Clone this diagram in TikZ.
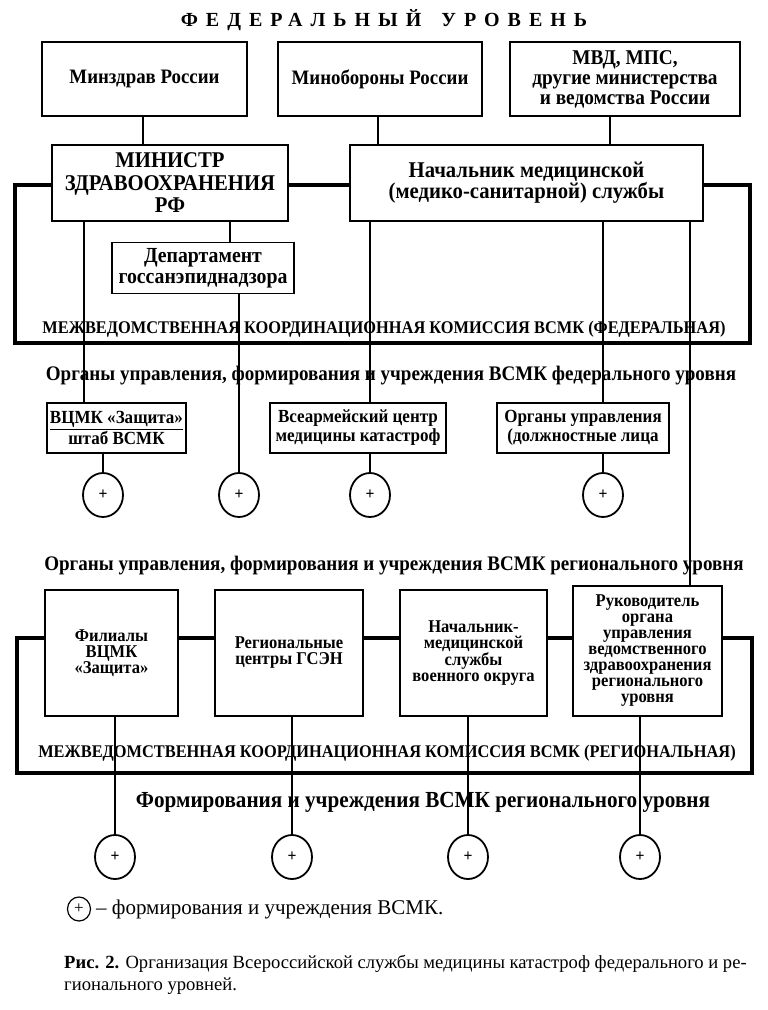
\documentclass[tikz,border=0pt]{standalone}
\usepackage{fontspec}
\setmainfont{Liberation Serif}[FakeStretch=0.92]
\newfontfamily\capfont{Liberation Serif}
\usetikzlibrary{shapes.geometric}
\begin{document}
\begin{tikzpicture}[x=1pt,y=-1pt,
  box/.style={draw, line width=1.8pt, fill=white, inner sep=0pt, align=center,
    font=\bfseries\fontsize{20.5}{20}\selectfont},
  mbox/.style={box, font=\bfseries\fontsize{18.5}{19}\selectfont},
  rbox/.style={box, font=\bfseries\fontsize{18}{16}\selectfont},
  frame/.style={draw, line width=3.8pt, inner sep=0pt},
  conn/.style={line width=1.3pt},
  circ/.style={draw, ellipse, line width=1.8pt, fill=white, minimum width=40, minimum height=44, inner sep=0pt,
    font=\bfseries\fontsize{17}{17}\selectfont},
  lbl/.style={inner sep=0pt, font=\bfseries\fontsize{17.8}{18}\selectfont},
  olbl/.style={inner sep=0pt, font=\bfseries\fontsize{20.7}{20}\selectfont}
]
\useasboundingbox (0,0) rectangle (768,1010);
\fill[white] (0,0) rectangle (768,1010);

% frames
\node[frame, minimum width=735, minimum height=158] (FF) at (382.5,264) {};
\node[frame, minimum width=735, minimum height=135] (RF) at (384.5,705.5) {};

% title
\node[inner sep=0pt, font=\capfont\bfseries\fontsize{20}{20}\selectfont\addfontfeatures{LetterSpace=40}] (T) at (384,20) {ФЕДЕРАЛЬНЫЙ\hspace{1em}УРОВЕНЬ};

% top row
\node[box, minimum width=205, minimum height=74] (A) at (144.5,79) {Минздрав России};
\node[box, minimum width=204, minimum height=74] (B) at (380,79) {Минобороны России};
\node[box, minimum width=230, minimum height=74, font=\bfseries\fontsize{21}{20}\selectfont] (C) at (625,79) {МВД, МПС,\\другие министерства\\и ведомства России};

% second row
\node[box, minimum width=236, minimum height=76, font=\bfseries\fontsize{22.5}{22.5}\selectfont] (D) at (170,183) {МИНИСТР\\ЗДРАВООХРАНЕНИЯ\\РФ};
\node[box, minimum width=353, minimum height=76, font=\bfseries\fontsize{22.5}{21}\selectfont] (E) at (526.5,183) {Начальник медицинской\\(медико-санитарной) службы};
\node[box, minimum width=182, minimum height=51, font=\bfseries\fontsize{21.5}{21}\selectfont] (Dep) at (203,268) {Департамент\\госсанэпиднадзора};

% federal row
\node[mbox, minimum width=139, minimum height=50] (F) at (116.5,428) {\underline{ВЦМК «Защита»}\\штаб ВСМК};
\node[mbox, minimum width=176, minimum height=50] (G) at (358,428) {Всеармейский центр\\медицины катастроф};
\node[mbox, minimum width=172, minimum height=50] (H) at (583,428) {Органы управления\\(должностные лица};

\node[circ] (c1) at (103,495) {+};
\node[circ] (c2) at (239,495) {+};
\node[circ] (c3) at (370,495) {+};
\node[circ] (c4) at (603,495) {+};

% regional row
\node[rbox, minimum width=133, minimum height=126] (R1) at (111.5,653) {Филиалы\\ВЦМК\\«Защита»};
\node[rbox, minimum width=148, minimum height=126] (R2) at (289,653) {Региональные\\центры ГСЭН};
\node[rbox, minimum width=147, minimum height=126] (R3) at (473.5,653) {Начальник-\\медицинской\\службы\\военного округа};
\node[rbox, minimum width=149, minimum height=130] (R4) at (647.5,651) {Руководитель\\органа\\управления\\ведомственного\\здравоохранения\\регионального\\уровня};

\node[circ] (d1) at (115,857) {+};
\node[circ] (d2) at (292,857) {+};
\node[circ] (d3) at (468,857) {+};
\node[circ] (d4) at (640,857) {+};

% connector x positions
\coordinate (x143) at (143,0);
\coordinate (x378) at (378,0);
\coordinate (x610) at (610,0);
\coordinate (x84) at (84,0);
\coordinate (x230) at (230,0);
\coordinate (x239) at (239,0);
\coordinate (x370) at (370,0);
\coordinate (x603) at (603,0);
\coordinate (x690) at (690,0);
\coordinate (x103) at (103,0);

\draw[conn] (A.south -| x143) -- (D.north -| x143);
\draw[conn] (B.south -| x378) -- (E.north -| x378);
\draw[conn] (C.south -| x610) -- (E.north -| x610);
\draw[conn] (D.south -| x84) -- (F.north -| x84);
\draw[conn] (D.south -| x230) -- (Dep.north -| x230);
\draw[conn] (Dep.south -| x239) -- (c2.north);
\draw[conn] (E.south -| x370) -- (G.north -| x370);
\draw[conn] (E.south -| x603) -- (H.north -| x603);
\draw[conn] (E.south -| x690) -- (R4.north -| x690);
\draw[conn] (F.south -| x103) -- (c1.north);
\draw[conn] (G.south -| x370) -- (c3.north);
\draw[conn] (H.south -| x603) -- (c4.north);
\draw[conn] (R1.south -| d1) -- (d1.north);
\draw[conn] (R2.south -| d2) -- (d2.north);
\draw[conn] (R3.south -| d3) -- (d3.north);
\draw[conn] (R4.south -| d4) -- (d4.north);

% labels
\node[lbl] (MF) at (384,329) {МЕЖВЕДОМСТВЕННАЯ КООРДИНАЦИОННАЯ КОМИССИЯ ВСМК (ФЕДЕРАЛЬНАЯ)};
\node[olbl] (OF) at (391,376) {Органы управления, формирования и учреждения ВСМК федерального уровня};
\node[olbl] (OR) at (394,566) {Органы управления, формирования и учреждения ВСМК регионального уровня};
\node[lbl] (MR) at (387,753) {МЕЖВЕДОМСТВЕННАЯ КООРДИНАЦИОННАЯ КОМИССИЯ ВСМК (РЕГИОНАЛЬНАЯ)};
\node[olbl, font=\bfseries\fontsize{23}{23}\selectfont] (FR) at (423,802) {Формирования и учреждения ВСМК регионального уровня};

% legend
\node[draw, ellipse, line width=1.2pt, minimum width=23, minimum height=24, inner sep=0pt, font=\capfont\fontsize{17}{17}\selectfont] (lc) at (79,909) {+};
\node[anchor=west, inner sep=0pt, font=\capfont\fontsize{21}{21}\selectfont] (lt) at (96,909) {– формирования и учреждения ВСМК.};

% caption
\node[anchor=west, inner sep=0pt, font=\capfont\fontsize{18.6}{18.6}\selectfont] (cap1) at (64,964) {\textbf{Рис. 2.} Организация Всероссийской службы медицины катастроф федерального и ре-};
\node[anchor=west, inner sep=0pt, font=\capfont\fontsize{18.6}{18.6}\selectfont] (cap2) at (64,986) {гионального уровней.};
\end{tikzpicture}
\end{document}
